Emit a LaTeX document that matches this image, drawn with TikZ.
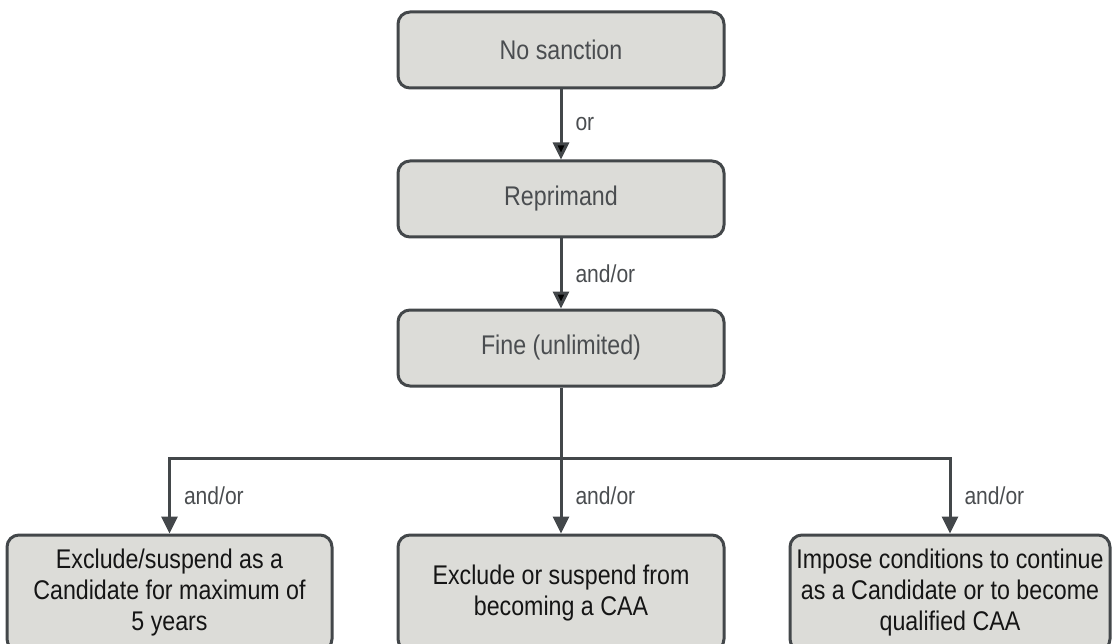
\documentclass[tikz,border=0pt]{standalone}
\usepackage{fontspec}
\setmainfont[FakeStretch=0.86]{Liberation Sans}
\usetikzlibrary{
        arrows.meta,
        positioning
    }
\definecolor{boxfill}{HTML}{DCDCD8}
\definecolor{boxline}{HTML}{43474A}
\definecolor{toptext}{HTML}{4A4D50}
\definecolor{lowtext}{HTML}{151515}
\tikzset{>={Triangle[width=16pt,length=17pt]},node distance=70pt}
\tikzset{sanction/.style={draw=boxline,fill=boxfill,line width=3pt,rounded corners=12pt,
        align=center,text=toptext,font=\fontsize{27}{31}\selectfont,
        minimum height=76pt,minimum width=326pt,inner sep=0pt}}
\tikzset{outcome/.style={sanction,text=lowtext,minimum height=116pt}}
\tikzset{link/.style={draw=boxline,line width=3pt}}
\tikzset{choice/.style={right=11pt,text=toptext,font=\fontsize{24.5}{28}\selectfont,inner sep=2pt}}

\begin{document}
\begin{tikzpicture}[x=1pt,y=-1pt]
    \useasboundingbox (0,0) rectangle (1113,644);
                \node[sanction] (nosanc) at (561,50) {No sanction};
                \node[sanction,below=of nosanc] (repri) {Reprimand};
                \node[sanction,below=of repri] (fine) {Fine (unlimited)};
                \node[outcome,below=146pt of fine] (excaa) {Exclude or suspend from\\ becoming a CAA};
                \node[outcome,left=63pt of excaa,minimum width=325pt] (excl) {Exclude/suspend as a\\ Candidate for maximum of\\ 5 years};
                \node[outcome,right=63pt of excaa,minimum width=320pt] (cond) {Impose conditions to continue\\ as a Candidate or to become\\ qualified CAA};
                \coordinate[below=71pt of fine] (split);
            \path[->,link]
                    (nosanc) edge node[choice] {or} (repri)
                    (repri) edge node[choice] {and/or} (fine)
                    ;
            \draw[link] (fine) -- (split);
            \draw[link,->] (split) -| node[choice,pos=0.75] {and/or} (excl);
            \draw[link,->] (split) -- node[choice] {and/or} (excaa);
            \draw[link,->] (split) -| node[choice,pos=0.75] {and/or} (cond);
\end{tikzpicture}
\end{document}
